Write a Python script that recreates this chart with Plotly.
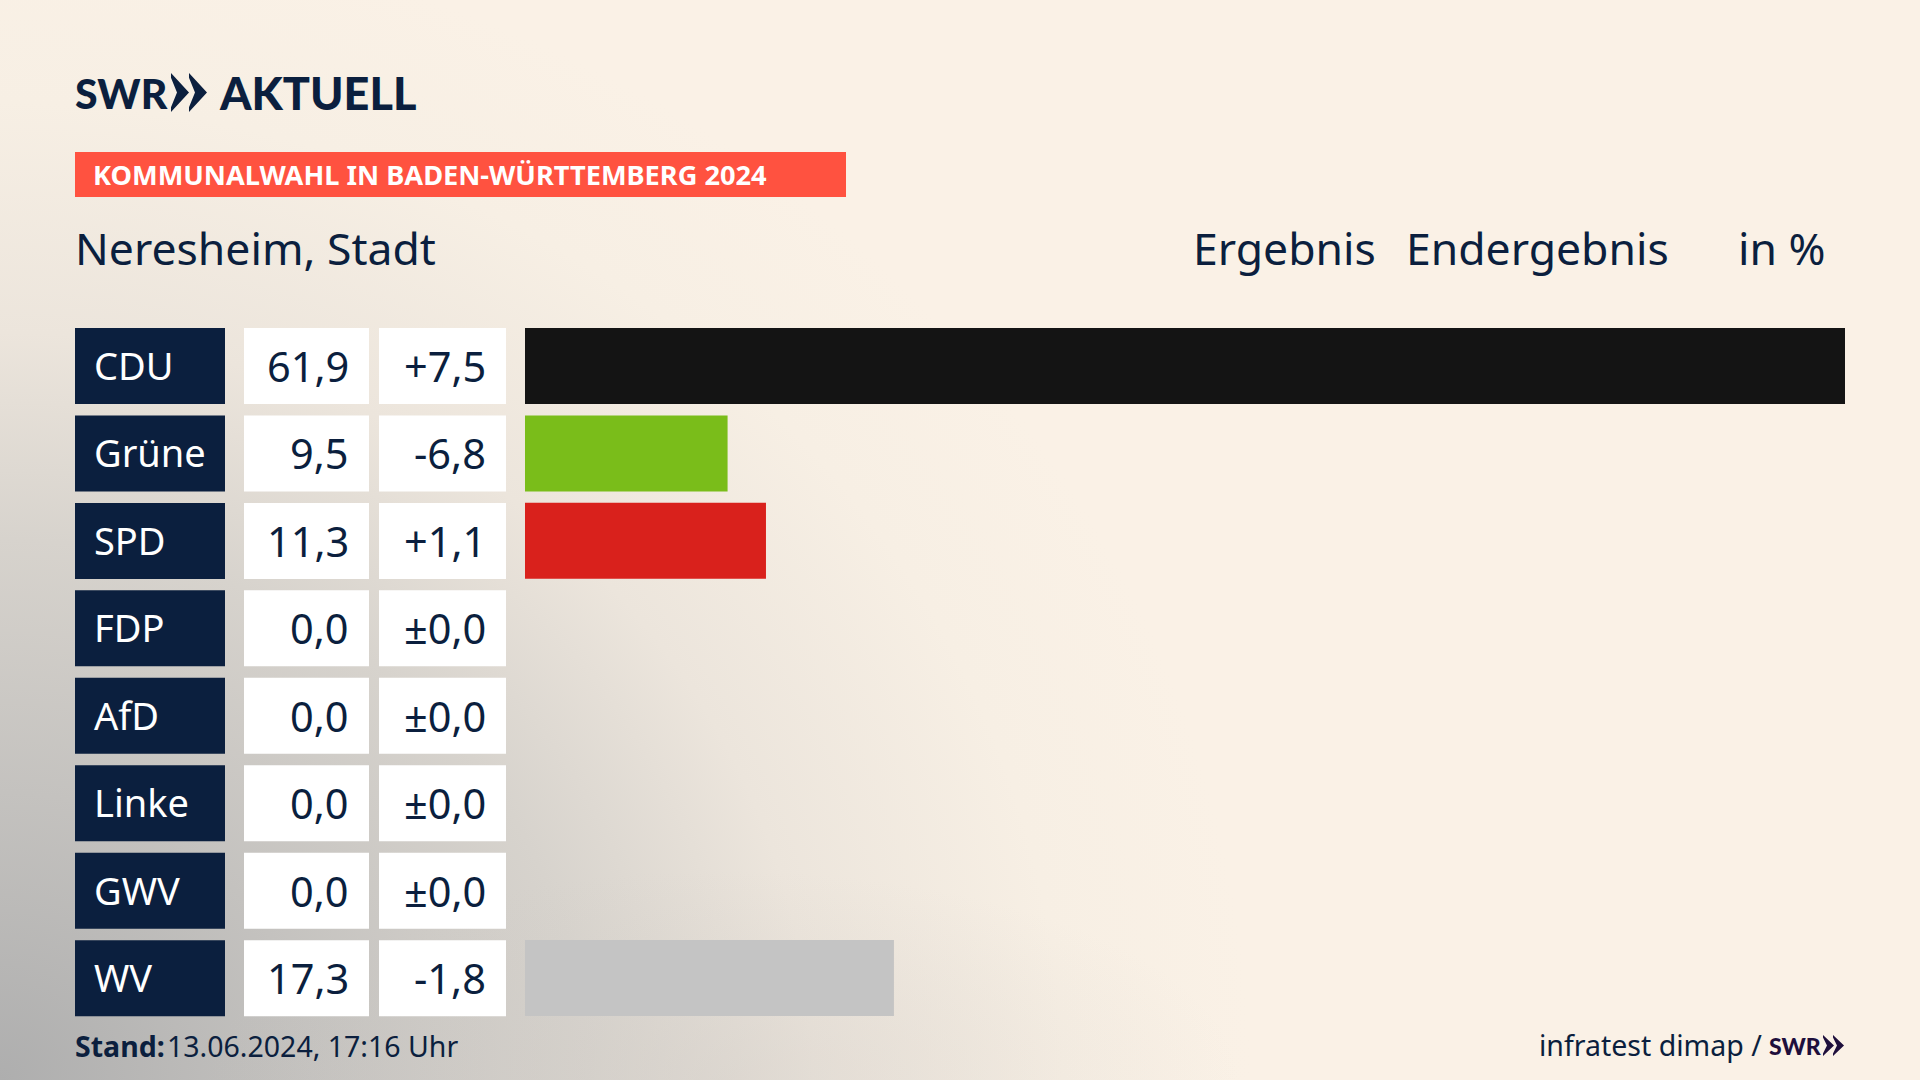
#!/usr/bin/env python3
# -*- coding: utf-8 -*-
#%% imports
import plotly.graph_objects as go

#%% data
parties = ['CDU', 'Grüne', 'SPD', 'FDP', 'AfD', 'Linke', 'GWV', 'WV']
results = [61.9, 9.5, 11.3, 0.0, 0.0, 0.0, 0.0, 17.3]
changes = [7.5, -6.8, 1.1, 0.0, 0.0, 0.0, 0.0, -1.8]
bar_colors = ['#141414', '#7abd1a', '#d9211c', '#ffe000', '#009ee0', '#be3075', '#c4c4c4', '#c4c4c4']

#%% style
W, H = 1920, 1080
NAVY = '#0b1f3e'
PURPLE = '#1e0f3c'
FONT = 'Noto Sans'
LOGO_FONT = 'Lato'
BACKGROUND = (
    'radial-gradient(ellipse 520px 210px at 720px 1080px, '
    'rgba(205,200,195,0.35) 0%, rgba(205,200,195,0) 100%), '
    'radial-gradient(ellipse 1250px 1150px at 0px 1080px, '
    '#aeaeae 0%, #c4c2bf 25%, #d7d3cd 47%, #ece5dc 65%, #f7efe4 85%, #faf1e6 100%), #faf1e6'
)


def px_x(x):
    return x / W


def px_y(y):
    return 1 - y / H


def box(x0, x1, y0, y1, color):
    return dict(type='rect', xref='paper', yref='paper', layer='below',
                x0=px_x(x0), x1=px_x(x1), y0=px_y(y0), y1=px_y(y1),
                fillcolor=color, line_width=0)


def chevron(x, w, y0, y1, t, color):
    ym = (y0 + y1) / 2
    cut = (y1 - y0) * 0.12
    pts = [(x, y0), (x + w, ym), (x, y1), (x, y1 - cut), (x + w - t, ym), (x, y0 + cut)]
    path = 'M ' + ' L '.join(f'{px_x(a):.5f},{px_y(b):.5f}' for a, b in pts) + ' Z'
    return dict(type='path', xref='paper', yref='paper', path=path,
                fillcolor=color, line_width=0)


def label(x, y, text, size, color=NAVY, anchor='left', weight=400, family=FONT):
    return dict(xref='paper', yref='paper', x=px_x(x), y=px_y(y), text=text,
                showarrow=False, xanchor=anchor, yanchor='middle', borderpad=0,
                font=dict(family=family, size=size, color=color, weight=weight))


def fmt_result(v):
    return f'{v:.1f}'.replace('.', ',')


def fmt_change(v):
    if v == 0:
        return '±0,0'
    return f'{v:+.1f}'.replace('.', ',')


#%% figure
fig = go.Figure(go.Bar(
    x=results,
    y=parties,
    orientation='h',
    marker=dict(color=bar_colors, line_width=0),
    hoverinfo='skip',
))

shapes = [box(75, 846, 152, 197, '#ff5240')]
annotations = [
    label(74, 93, 'SWR', 41, weight=900, family=LOGO_FONT),
    label(218, 93, 'AKTUELL', 45, weight=900, family=LOGO_FONT),
    label(92, 175, 'KOMMUNALWAHL IN BADEN-WÜRTTEMBERG 2024', 27.2, color='white', weight=700),
    label(74, 247, 'Neresheim, Stadt', 44.5),
    label(1192, 247, 'Ergebnis', 44.5),
    label(1405, 247, 'Endergebnis', 44.5),
    label(1737, 247, 'in %', 44.5),
    label(74, 1046, 'Stand:', 28.5, weight=700),
    label(166, 1046, '13.06.2024, 17:16 Uhr', 28.5),
    label(1538, 1045, 'infratest dimap /', 28.5),
    label(1768, 1046, 'SWR', 23, color=PURPLE, weight=900, family=LOGO_FONT),
]
shapes += [
    chevron(171, 18, 73, 112, 12, NAVY),
    chevron(189, 18, 73, 112, 12, NAVY),
    chevron(1823, 11, 1035, 1056, 7, PURPLE),
    chevron(1833, 11, 1035, 1056, 7, PURPLE),
]

for i, party in enumerate(parties):
    top = 328 + i * 87.45
    shapes += [
        box(75, 225, top, top + 76, NAVY),
        box(244, 369, top, top + 76, 'white'),
        box(379, 506, top, top + 76, 'white'),
    ]
    annotations += [
        label(93, top + 37, party, 38, color='white'),
        label(350, top + 38, fmt_result(results[i]), 41.5, anchor='right'),
        label(487, top + 38, fmt_change(changes[i]), 41.5, anchor='right'),
    ]

fig.update_layout(
    width=W,
    height=H,
    margin=dict(l=0, r=0, t=0, b=0),
    paper_bgcolor='rgba(0,0,0,0)',
    plot_bgcolor='rgba(0,0,0,0)',
    showlegend=False,
    bargap=0.131,
    shapes=shapes,
    annotations=annotations,
)
fig.update_xaxes(domain=[525 / W, 1845 / W], range=[0, 61.9], visible=False)
fig.update_yaxes(domain=[1 - 1021.75 / H, 1 - 322.25 / H], type='category',
                 range=[7.5, -0.5], visible=False)

post_script = (
    "document.body.style.margin='0';"
    "document.body.style.height='1080px';"
    "document.body.style.overflow='hidden';"
    f"document.body.style.background='{BACKGROUND}';"
)
fig.write_html('out.html', post_script=post_script, config={'displayModeBar': False})
